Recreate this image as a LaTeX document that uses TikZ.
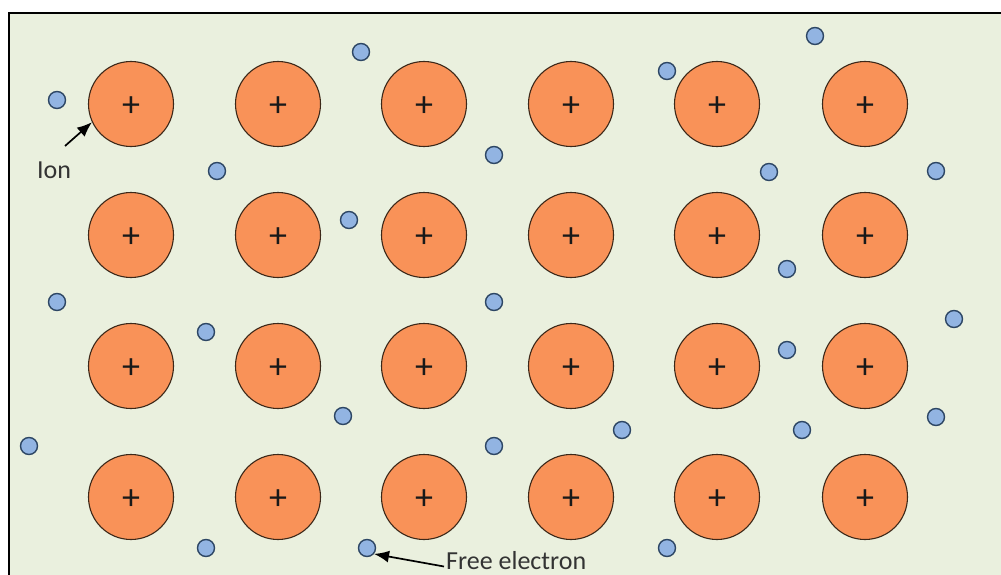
\documentclass[tikz,border=0pt]{standalone}
\usepackage{fontspec}
\setmainfont{Carlito}
\usetikzlibrary{arrows.meta}
\definecolor{bgc}{RGB}{234,240,222}
\definecolor{ionfill}{RGB}{249,146,88}
\definecolor{ionline}{RGB}{60,40,25}
\definecolor{elfill}{RGB}{146,180,226}
\definecolor{elline}{RGB}{45,70,100}
\tikzset{
  ion/.style={circle,draw=ionline,fill=ionfill,line width=1.1pt,minimum size=85pt,inner sep=0pt},
  pluslbl/.style={font=\fontsize{36}{36}\selectfont,text=black!90,inner sep=0pt},
  electron/.style={circle,draw=elline,fill=elfill,line width=1.4pt,minimum size=17pt,inner sep=0pt},
  lbl/.style={font=\fontsize{26}{26}\selectfont,text=black!80,inner sep=0pt},
  pointer/.style={line width=1.7pt,-{Latex[length=15pt,width=12pt]}}
}
\begin{document}
\begin{tikzpicture}[x=1pt,y=-1pt]
\useasboundingbox (0,0) rectangle (1001,575);
\begin{scope}
\clip (0,0) rectangle (1001,575);
\fill[white] (0,0) rectangle (1001,575);
\draw[fill=bgc,line width=1.6pt] (9,13) rectangle (1010,585);
\end{scope}
% ions
\foreach \r/\y in {1/104,2/235,3/366,4/497}{
  \foreach \c/\x in {1/131,2/278,3/424,4/571,5/717,6/865}{
    \node[ion] (i\r\c) at (\x,\y) {};
    \node[pluslbl] (p\r\c) at ([yshift=-3pt]i\r\c.center) {+};
  }
}
% electrons
\foreach \n/\x/\y in {1/57/100,2/361/52,3/667/71,4/815/36,5/217/171,6/494/155,7/769/172,8/936/171,
  9/349/220,10/787/269,11/57/302,12/494/302,13/206/332,14/787/350,15/954/319,16/343/416,
  17/622/430,18/802/430,19/936/417,20/29/446,21/494/446,22/206/548,23/367/548,24/667/548}{
  \node[electron] (e\n) at (\x,\y) {};
}
% labels
\node[lbl] (ionlbl) at (54,170) {Ion};
\coordinate (ionstart) at (65,146);
\draw[pointer] (ionstart) -- (i11.205);
\node[lbl,anchor=west] (felbl) at (446,560.5) {Free electron};
\draw[pointer] ([xshift=-2pt,yshift=-6pt]felbl.west) -- (e23.-40);
\end{tikzpicture}
\end{document}
